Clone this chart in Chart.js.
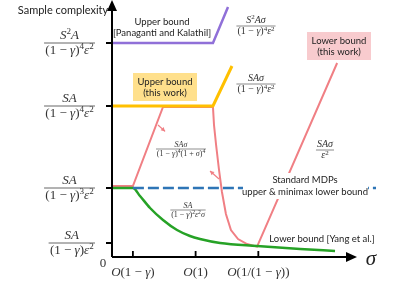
<!DOCTYPE html>
<html>
<head>
<meta charset="utf-8">
<script src="https://cdn.jsdelivr.net/npm/chart.js@4/dist/chart.umd.min.js"></script>
<style>
  html, body { margin: 0; padding: 0; background: #fff; }
</style>
</head>
<body>
<canvas id="chart" width="399" height="285"></canvas>
<script>
// axis ticks (sigma on x, sample complexity on y)
const xTickVals = [1, 4, 7];
const xTickLabels = ['O(1 − γ)', 'O(1)', 'O(1/(1 − γ))'];
const yTickVals = [0.7, 3.45, 7.55, 10.7];
const yTickNums = ['SA', 'SA', 'SA', 'S^2A'];
const yTickDens = ['(1 − γ)ε^2', '(1 − γ)^3ε^2', '(1 − γ)^4ε^2', '(1 − γ)^4ε^2'];
const xAxisEnd = 11.72;
const yAxisEnd = 12.85;

// series
const upperPanaganti = [
  { x: 0, y: 10.7 }, { x: 4.83, y: 10.7 }, { x: 5.55, y: 12.5 }
];
const upperThisWork = [
  { x: 0, y: 7.55 }, { x: 4.83, y: 7.55 }, { x: 5.74, y: 9.55 }
];
const lowerThisWork = [
  { x: 0, y: 3.55 }, { x: 1.0, y: 3.55 }, { x: 2.44, y: 7.5 }, { x: 4.83, y: 7.5 },
  { x: 4.88, y: 6.6 }, { x: 4.98, y: 5.6 }, { x: 5.12, y: 4.35 }, { x: 5.26, y: 3.25 },
  { x: 5.45, y: 2.15 }, { x: 5.69, y: 1.35 }, { x: 6.03, y: 0.9 }, { x: 6.46, y: 0.65 },
  { x: 6.94, y: 0.52 }, { x: 10.77, y: 9.7 }
];
const lowerYang = [
  { x: 0, y: 3.45 }, { x: 1, y: 3.45 }, { x: 1.34, y: 3.05 }, { x: 1.82, y: 2.45 },
  { x: 2.44, y: 1.85 }, { x: 3.11, y: 1.35 }, { x: 3.73, y: 1.05 }, { x: 4.21, y: 0.9 },
  { x: 5.17, y: 0.7 }, { x: 6.94, y: 0.55 }, { x: 9.0, y: 0.4 }, { x: 10.67, y: 0.3 }
];
const standardMDP = [ { x: 1, y: 3.45 }, { x: 12.63, y: 3.45 } ];

// little direction arrows next to the pink curve [from, to]
const pinkArrows = [
  [{ x: 2.2, y: 6.6 }, { x: 2.54, y: 6.28 }],
  [{ x: 5.12, y: 3.9 }, { x: 4.69, y: 4.3 }]
];

const SERIF = '"Liberation Serif", "DejaVu Serif", serif';
const SANS = 'Lato, "Open Sans", sans-serif';

function layoutMath(ctx, s, size) {
  const runs = [];
  let w = 0;
  for (let i = 0; i < s.length; i++) {
    let ch = s[i], sup = false;
    if (ch === '^') { sup = true; ch = s[++i]; }
    const it = /[A-Za-z\u03b1-\u03c9]/.test(ch);
    const fs = sup ? size * 0.7 : size;
    const font = (it ? 'italic ' : '') + fs + 'px ' + SERIF;
    ctx.font = font;
    const cw = ctx.measureText(ch).width;
    runs.push({ ch, font, x: w, dy: sup ? -size * 0.36 : 0 });
    w += cw;
  }
  return { runs, w };
}

function drawMath(ctx, s, cx, base, size, color) {
  const m = layoutMath(ctx, s, size);
  ctx.fillStyle = color || '#333';
  ctx.textBaseline = 'alphabetic';
  ctx.textAlign = 'left';
  const x0 = cx - m.w / 2;
  m.runs.forEach(r => { ctx.font = r.font; ctx.fillText(r.ch, x0 + r.x, base + r.dy); });
}

function drawFrac(ctx, num, den, cx, barY, size, align) {
  const a = layoutMath(ctx, num, size), b = layoutMath(ctx, den, size);
  const bw = Math.max(a.w, b.w) + size * 0.2;
  const c = align === 'right' ? cx - bw / 2 : cx;
  ctx.strokeStyle = '#444';
  ctx.lineWidth = Math.max(0.6, size / 16);
  ctx.beginPath();
  ctx.moveTo(c - bw / 2, barY);
  ctx.lineTo(c + bw / 2, barY);
  ctx.stroke();
  drawMath(ctx, num, c, barY - size * 0.3, size);
  drawMath(ctx, den, c, barY + size * 0.82, size);
}

function arrowHead(ctx, x1, y1, x2, y2, len, half) {
  const ang = Math.atan2(y2 - y1, x2 - x1);
  ctx.beginPath();
  ctx.moveTo(x2, y2);
  ctx.lineTo(x2 - len * Math.cos(ang) + half * Math.sin(ang), y2 - len * Math.sin(ang) - half * Math.cos(ang));
  ctx.lineTo(x2 - len * Math.cos(ang) - half * Math.sin(ang), y2 - len * Math.sin(ang) + half * Math.cos(ang));
  ctx.closePath();
  ctx.fill();
}

function textLines(ctx, lines, cx, y0, gap, size, color) {
  ctx.font = size + 'px ' + SANS;
  ctx.fillStyle = color || '#222';
  ctx.textAlign = 'center';
  ctx.textBaseline = 'middle';
  lines.forEach((t, i) => ctx.fillText(t, cx, y0 + i * gap));
}

const annotate = {
  id: 'annotate',
  afterDatasetsDraw(chart) {
    const ctx = chart.ctx;
    const xs = chart.scales.x, ys = chart.scales.y;
    const ox = xs.getPixelForValue(0), oy = ys.getPixelForValue(0);
    ctx.save();

    // pink direction arrows
    ctx.strokeStyle = '#F07F84';
    ctx.fillStyle = '#F07F84';
    ctx.lineWidth = 1.2;
    pinkArrows.forEach(([p, q]) => {
      const x1 = xs.getPixelForValue(p.x), y1 = ys.getPixelForValue(p.y);
      const x2 = xs.getPixelForValue(q.x), y2 = ys.getPixelForValue(q.y);
      ctx.beginPath(); ctx.moveTo(x1, y1); ctx.lineTo(x2, y2); ctx.stroke();
      arrowHead(ctx, x1, y1, x2, y2, 4, 2.2);
    });

    // axes
    ctx.strokeStyle = '#000';
    ctx.fillStyle = '#000';
    ctx.lineWidth = 2;
    const xe = xs.getPixelForValue(xAxisEnd), ye = ys.getPixelForValue(yAxisEnd);
    ctx.beginPath();
    ctx.moveTo(ox, oy); ctx.lineTo(xe - 6, oy);
    ctx.moveTo(ox, oy); ctx.lineTo(ox, ye + 6);
    ctx.stroke();
    arrowHead(ctx, xe - 12, oy, xe, oy, 11, 5);
    arrowHead(ctx, ox, ye + 12, ox, ye, 11, 5);

    // ticks
    ctx.lineWidth = 1.8;
    ctx.beginPath();
    xTickVals.forEach(v => { const px = xs.getPixelForValue(v); ctx.moveTo(px, oy); ctx.lineTo(px, oy - 6); });
    yTickVals.forEach(v => { const py = ys.getPixelForValue(v); ctx.moveTo(ox, py); ctx.lineTo(ox - 6, py); });
    ctx.stroke();

    // tick labels
    xTickVals.forEach((v, i) => drawMath(ctx, xTickLabels[i], xs.getPixelForValue(v), oy + 19, 13));
    yTickVals.forEach((v, i) => drawFrac(ctx, yTickNums[i], yTickDens[i], ox - 17, ys.getPixelForValue(v), 13, 'right'));
    drawMath(ctx, '0', ox - 9, oy + 10, 13);
    drawMath(ctx, 'σ', xe + 14, oy + 8, 21, '#222');

    textLines(ctx, ['Sample complexity'], 63, 10, 0, 11);

    // curve formulas
    drawFrac(ctx, 'S^2Aσ', '(1 − γ)^4ε^2', 256, 26, 10);
    drawFrac(ctx, 'SAσ', '(1 − γ)^4ε^2', 256, 84, 10);
    drawFrac(ctx, 'SAσ', '(1 − γ)^4(1 + σ)^4', 181, 149, 8);
    drawFrac(ctx, 'SA', '(1 − γ)^2ε^2σ', 188, 210, 8);
    drawFrac(ctx, 'SAσ', 'ε^2', 325, 150, 10);

    // text boxes
    textLines(ctx, ['Upper bound', '[Panaganti and Kalathil]'], 162, 22, 11, 9.5);

    ctx.fillStyle = '#FFE08C';
    ctx.fillRect(133, 73, 64, 28);
    textLines(ctx, ['Upper bound', '(this work)'], 165, 82, 11, 9.5);

    ctx.fillStyle = '#F8CBCE';
    ctx.fillRect(307, 32, 64, 28);
    textLines(ctx, ['Lower bound', '(this work)'], 339, 41, 11, 9.5);

    ctx.fillStyle = '#fff';
    ctx.fillRect(243, 173, 125, 26);
    textLines(ctx, ['Standard MDPs', 'upper & minimax lower bound'], 305, 180, 12, 9.5);

    textLines(ctx, ['Lower bound [Yang et al.]'], 322, 239, 0, 9.5);
    ctx.restore();
  }
};

new Chart(document.getElementById('chart'), {
  type: 'line',
  data: {
    datasets: [
      { label: 'Upper bound [Panaganti and Kalathil]', data: upperPanaganti, borderColor: '#9070D8', borderWidth: 2.5, order: 5 },
      { label: 'Lower bound (this work)', data: lowerThisWork, borderColor: '#F07F84', borderWidth: 2, order: 4 },
      { label: 'Upper bound (this work)', data: upperThisWork, borderColor: '#FFC000', borderWidth: 3, order: 3 },
      { label: 'Lower bound [Yang et al.]', data: lowerYang, borderColor: '#26A226', borderWidth: 2.5, cubicInterpolationMode: 'monotone', order: 2 },
      { label: 'Standard MDPs', data: standardMDP, borderColor: '#2E75B6', borderWidth: 2.5, borderDash: [11, 4], order: 1 }
    ]
  },
  options: {
    responsive: false,
    animation: false,
    layout: { padding: { left: 112, right: 0, top: 0, bottom: 28 } },
    elements: { point: { radius: 0 }, line: { fill: false, borderCapStyle: 'butt' } },
    datasets: { line: { clip: false } },
    scales: {
      x: { type: 'linear', min: 0, max: 13.73, display: false },
      y: { type: 'linear', min: 0, max: yAxisEnd, display: false }
    },
    plugins: { legend: { display: false }, tooltip: { enabled: false } }
  },
  plugins: [annotate]
});
</script>
</body>
</html>
